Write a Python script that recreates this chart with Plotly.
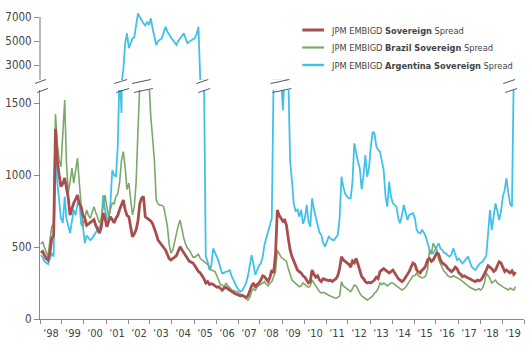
import plotly.graph_objects as go
import pandas as pd

# ---------------- data (monthly, mid-month) ----------------
sovereign = [
    460, 470, 445, 420, 410, 460, 560, 580, 1320, 1100, 1000, 920,      # 1998
    940, 980, 917, 840, 722, 770, 805, 830, 861, 800, 780, 720,          # 1999
    700, 650, 660, 667, 680, 690, 650, 620, 597, 640, 736, 700,          # 2000
    640, 680, 710, 690, 667, 700, 720, 760, 800, 826, 760, 720,          # 2001
    710, 640, 572, 590, 620, 680, 800, 840, 850, 710, 700, 690,          # 2002
    680, 660, 630, 590, 548, 530, 510, 500, 480, 450, 420, 410,          # 2003
    423, 430, 440, 470, 502, 480, 460, 440, 420, 400, 395, 389,          # 2004
    370, 350, 330, 320, 300, 280, 250, 260, 240, 245, 240, 230,          # 2005
    220, 224, 210, 200, 215, 220, 210, 200, 190, 180, 175, 170,          # 2006
    165, 160, 165, 155, 150, 160, 200, 230, 250, 220, 240, 250,          # 2007
    270, 300, 294, 280, 260, 290, 340, 320, 450, 757, 720, 700,          # 2008
    680, 687, 650, 560, 480, 433, 400, 370, 340, 329, 319, 300,          # 2009
    290, 270, 250, 260, 340, 310, 290, 300, 271, 260, 280, 275,          # 2010
    270, 265, 270, 260, 271, 280, 300, 350, 433, 410, 400, 389,          # 2011
    380, 360, 403, 390, 420, 380, 340, 294, 280, 260, 250, 255,          # 2012
    250, 260, 270, 290, 280, 329, 340, 350, 340, 330, 320, 329,          # 2013
    340, 320, 300, 280, 270, 259, 270, 290, 310, 330, 363, 389,          # 2014
    380, 340, 329, 320, 340, 350, 370, 410, 420, 400, 410, 440,          # 2015
    458, 450, 410, 389, 380, 370, 350, 340, 329, 340, 360, 350,          # 2016
    320, 310, 294, 300, 290, 285, 280, 275, 265, 259, 270, 265,          # 2017
    270, 290, 310, 340, 370, 360, 350, 330, 340, 370, 398, 390,          # 2018
    360, 329, 340, 330, 320, 335, 310, 326,                              # 2019
]
brazil = [
    520, 537, 500, 470, 433, 550, 641, 667, 1424, 1220, 1100, 1058,
    1300, 1520, 1100, 875, 950, 1048, 944, 1050, 1118, 950, 800, 641,
    700, 757, 720, 700, 740, 780, 740, 700, 667, 700, 780, 861,
    780, 710, 760, 805, 800, 850, 870, 950, 1100, 1162, 1050, 900,
    944, 800, 722, 780, 944, 1300, 1700, 2100, 2300, 2200, 1900, 1650,
    1400, 1250, 1100, 826, 800, 790, 790, 780, 700, 650, 520, 458,
    480, 540, 600, 650, 687, 620, 560, 520, 490, 479, 450, 430,
    430, 444, 450, 420, 410, 400, 390, 380, 360, 340, 335, 329,
    300, 260, 240, 235, 224, 250, 230, 220, 201, 200, 190, 190,
    180, 170, 160, 150, 140, 132, 150, 190, 210, 200, 224, 230,
    240, 250, 260, 240, 230, 250, 260, 294, 330, 479, 450, 430,
    420, 410, 400, 350, 310, 271, 260, 250, 240, 224, 230, 250,
    240, 230, 220, 230, 271, 250, 230, 210, 190, 180, 185, 180,
    170, 165, 160, 155, 150, 143, 150, 160, 259, 230, 220, 210,
    201, 190, 210, 236, 230, 200, 180, 160, 150, 140, 132, 140,
    150, 160, 180, 190, 210, 250, 240, 250, 240, 230, 240, 250,
    250, 240, 230, 220, 210, 201, 210, 220, 240, 260, 271, 300,
    300, 319, 300, 290, 285, 290, 300, 350, 479, 450, 527, 500,
    480, 410, 380, 350, 330, 319, 300, 294, 290, 300, 294, 290,
    280, 271, 260, 250, 240, 230, 220, 215, 210, 201, 205, 210,
    200, 220, 250, 319, 300, 280, 250, 260, 270, 250, 240, 230,
    220, 215, 210, 201, 215, 210, 200, 224,
]
argentina = [
    444, 430, 400, 390, 382, 420, 458, 433, 1150, 950, 800, 700,
    667, 850, 700, 650, 597, 680, 757, 720, 800, 826, 660, 641,
    527, 580, 560, 548, 560, 580, 597, 620, 640, 667, 861, 760,
    700, 687, 800, 1035, 1000, 988, 1200, 1720, 1430, 2600, 4800, 5640,
    4400, 4900, 5200, 5300, 6500, 7300, 7000, 6700, 6470, 6300, 6560, 6330,
    6890, 6000, 5360, 4670, 5000, 5080, 5220, 5700, 6195, 5800, 5500, 5300,
    5080, 4900, 4670, 5000, 5220, 5500, 5640, 5200, 4810, 4950, 5080, 5150,
    5220, 5600, 6195, 1700, 1700, 1700, 433, 398, 340, 370, 491, 460,
    433, 400, 350, 317, 320, 329, 330, 340, 300, 270, 248, 220,
    200, 190, 200, 230, 248, 300, 380, 444, 380, 306, 340, 370,
    387, 430, 514, 560, 600, 664, 700, 1700, 1700, 1720, 1700, 1700,
    1450, 1700, 1720, 1700, 1100, 960, 800, 750, 760, 710, 757, 660,
    700, 792, 680, 641, 838, 760, 710, 650, 600, 583, 530, 502,
    540, 572, 560, 550, 548, 570, 583, 700, 988, 919, 870, 850,
    840, 838, 950, 1220, 1150, 1092, 1046, 900, 1000, 1139, 988, 1050,
    1200, 1300, 1290, 1200, 1174, 1162, 1100, 1035, 850, 780, 953, 850,
    803, 790, 780, 700, 664, 720, 792, 740, 687, 722, 730, 734,
    700, 618, 600, 595, 618, 600, 572, 520, 479, 470, 456, 480,
    500, 526, 490, 479, 460, 456, 440, 433, 450, 491, 450, 410,
    420, 400, 387, 400, 420, 433, 400, 363, 350, 340, 360, 380,
    390, 398, 421, 440, 595, 757, 618, 700, 803, 750, 687, 750,
    850, 896, 977, 880, 800, 780, 1700,
]
names = [
    "JPM EMBIGD <b>Sovereign</b> Spread",
    "JPM EMBIGD <b>Brazil Sovereign</b> Spread",
    "JPM EMBIGD <b>Argentina Sovereign</b> Spread",
]
lower_ticks = [0, 500, 1000, 1500]
upper_ticks = [3000, 5000, 7000]

def months(n):
    return pd.date_range("1998-01-01", periods=n, freq="MS") + pd.Timedelta(days=14)

# ---------------- geometry ----------------
W, H = 529, 348
ML, MR, MT, MB = 35, 5, 10, 29
PW, PH = W - ML - MR, H - MT - MB

def px(x):
    return (x - ML) / PW

def py(y):
    return (H - MB - y) / PH

LOW_TOP_PX, UP_BOT_PX = 90, 80
LOW_MAX = (H - MB - LOW_TOP_PX) * 500 / 72.0
UP_MIN = 1750
UP_MAX = UP_MIN + (UP_BOT_PX - MT) * 2000 / 24.0

RED, GREEN, BLUE = "#A84E4E", "#7DA968", "#41C1EA"
AXC = "#8a8a8a"
TXT = "#444444"
FONT = "DejaVu Sans Condensed, Liberation Sans Narrow, Roboto, sans-serif"

fig = go.Figure()
fig.add_trace(go.Scatter(x=months(len(argentina)), y=argentina, name=names[2], mode="lines",
                         line=dict(color=BLUE, width=1.8), showlegend=False, xaxis="x", yaxis="y"))
fig.add_trace(go.Scatter(x=months(len(brazil)), y=brazil, name=names[1], mode="lines",
                         line=dict(color=GREEN, width=1.6), showlegend=False, xaxis="x", yaxis="y"))
fig.add_trace(go.Scatter(x=months(len(sovereign)), y=sovereign, name=names[0], mode="lines",
                         line=dict(color=RED, width=2.8), showlegend=False, xaxis="x", yaxis="y"))
fig.add_trace(go.Scatter(x=months(len(argentina)), y=argentina, name=names[2], mode="lines",
                         line=dict(color=BLUE, width=1.8), showlegend=False, xaxis="x2", yaxis="y2"))

shapes = []
annotations = []

# legend (drawn manually for exact spacing)
legend_rows = [(names[0], RED, 3.0), (names[1], GREEN, 2.2), (names[2], BLUE, 2.4)]
for i, (nm, col, lw) in enumerate(legend_rows):
    yc = 30 + i * 17.5
    shapes.append(dict(type="line", xref="paper", yref="paper",
                       x0=px(300), x1=px(322), y0=py(yc), y1=py(yc),
                       line=dict(color=col, width=lw)))
    annotations.append(dict(text=nm, xref="paper", yref="paper", x=px(327), y=py(yc),
                            xanchor="left", yanchor="middle", showarrow=False,
                            font=dict(size=9.2, color=TXT, family=FONT)))

# break marks (decorative "//" symbols)
breaks = [(30, 11), (110, 13), (128, 19), (193, 12), (268, 19), (503, 12)]
for xl, w in breaks:
    shapes.append(dict(type="line", xref="paper", yref="paper",
                       x0=px(xl), y0=py(83.5), x1=px(xl + w), y1=py(79.5),
                       line=dict(color="#555555", width=1)))
    shapes.append(dict(type="line", xref="paper", yref="paper",
                       x0=px(xl + 2), y0=py(92.5), x1=px(xl + 2 + w), y1=py(88.5),
                       line=dict(color="#555555", width=1)))
# upper y-axis line (stops at 7000)
shapes.append(dict(type="line", xref="paper", yref="y2", x0=0, x1=0, y0=UP_MIN, y1=upper_ticks[-1],
                   line=dict(color=AXC, width=1.2)))

fig.update_layout(
    width=W, height=H,
    margin=dict(l=ML, r=MR, t=MT, b=MB),
    paper_bgcolor="white", plot_bgcolor="white",
    font=dict(family=FONT, size=11.5, color=TXT),
    showlegend=False,
    xaxis=dict(type="date", range=["1998-01-01", "2020-01-01"], anchor="y",
               dtick="M12", tick0="1998-01-01", ticklabelmode="period", tickformat="\u2018%y",
               ticks="outside", ticklen=4, tickcolor=AXC, tickwidth=1,
               showline=True, linecolor=AXC, linewidth=1.2, showgrid=False, zeroline=False,
               tickfont=dict(size=11, color=TXT)),
    xaxis2=dict(type="date", matches="x", anchor="y2", visible=False, showgrid=False),
    yaxis=dict(domain=[0, py(LOW_TOP_PX)], range=[0, LOW_MAX], tickvals=lower_ticks,
               ticks="outside", ticklen=5, tickcolor=AXC, showline=True, linecolor=AXC, linewidth=1.2,
               showgrid=False, zeroline=False, tickfont=dict(size=11.5, color=TXT)),
    yaxis2=dict(domain=[py(UP_BOT_PX), 1], range=[UP_MIN, UP_MAX], tickvals=upper_ticks,
                ticks="outside", ticklen=5, tickcolor=AXC, showline=False,
                showgrid=False, zeroline=False, tickfont=dict(size=11.5, color=TXT)),
    shapes=shapes,
    annotations=annotations,
)

fig.write_html("out.html")
